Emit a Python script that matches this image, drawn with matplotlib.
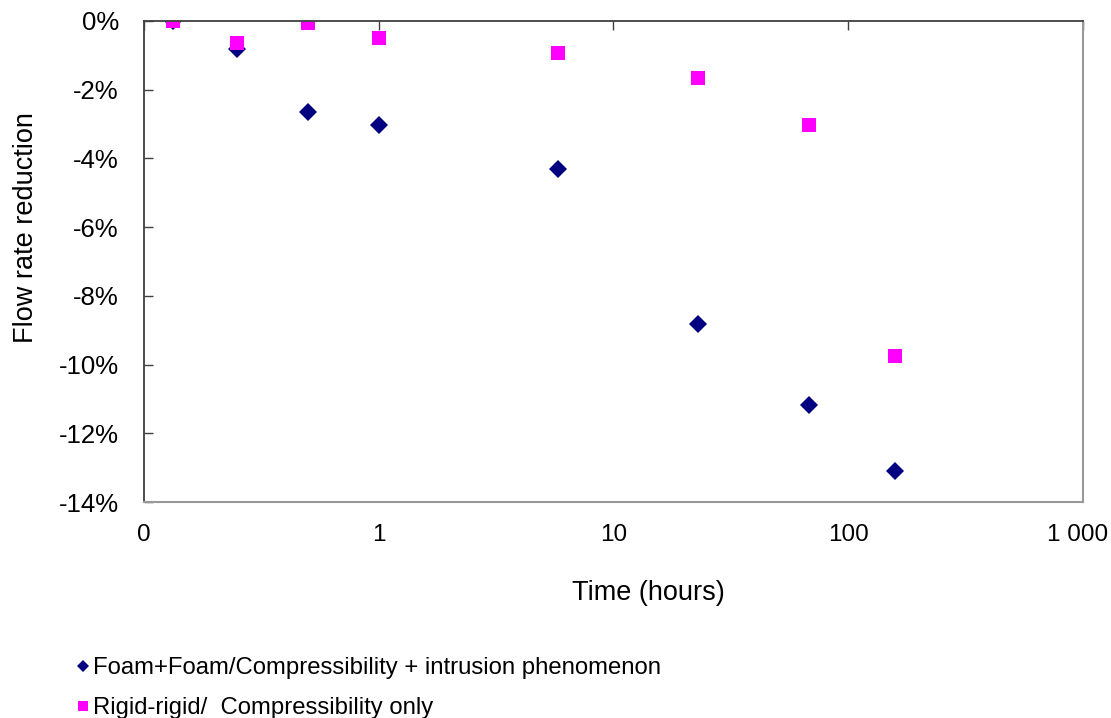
import numpy as np
import matplotlib.pyplot as plt
import matplotlib.transforms as mtransforms
from matplotlib.ticker import FixedLocator, FixedFormatter, NullLocator

plt.rcParams['font.family'] = ['Liberation Sans', 'DejaVu Sans']

# time in hours
t_foam = [0.133, 0.25, 0.5, 1, 5.8, 23, 68, 158]
red_foam = [0.0, -0.83, -2.64, -3.04, -4.30, -8.81, -11.17, -13.10]   # %
t_rigid = [0.133, 0.25, 0.5, 1, 5.8, 23, 68, 158]
red_rigid = [0.0, -0.63, -0.07, -0.51, -0.92, -1.65, -3.02, -9.75]   # %

xticks = [0.1, 1, 10, 100, 1000]
xticklabels = ['0', '1', '10', '100', '1 000']
yticks = [0, -2, -4, -6, -8, -10, -12, -14]

fig = plt.figure(figsize=(11.11, 7.18), dpi=100)
ax = fig.add_axes([0.1296, 0.3008, 0.9748 - 0.1296, 0.9708 - 0.3008])

ax.plot(t_foam, red_foam, linestyle='none', marker='D', ms=9, mew=0,
        color='#000080', label='Foam+Foam/Compressibility + intrusion phenomenon')
ax.plot(t_rigid, red_rigid, linestyle='none', marker='s', ms=10, mew=0,
        color='#FF00FF', label='Rigid-rigid/  Compressibility only')

ax.set_xscale('log')
ax.set_xlim(0.1, 1000)
ax.set_ylim(-14, 0)
ax.xaxis.set_major_locator(FixedLocator(xticks))
ax.xaxis.set_major_formatter(FixedFormatter(xticklabels))
ax.xaxis.set_minor_locator(NullLocator())
ax.set_yticks(yticks)
ax.set_yticklabels(['%d%%' % v for v in yticks])

ax.tick_params(axis='x', which='major', top=True, bottom=False, labeltop=False,
               labelbottom=True, direction='in', length=6.5, width=1,
               color='#404040', labelsize=17.5, pad=16)
ax.tick_params(axis='y', which='major', left=True, direction='in', length=6.5,
               width=1, color='#404040', labelsize=18.5, pad=18)

# nudge the last x label so it stays inside the figure
fig.canvas.draw()
last = ax.get_xticklabels()[-1]
last.set_transform(last.get_transform() + mtransforms.ScaledTranslation(-5 / 100, 0, fig.dpi_scale_trans))

for s in ['top', 'left']:
    ax.spines[s].set_color('#404040')
    ax.spines[s].set_linewidth(1.3)
for s in ['bottom', 'right']:
    ax.spines[s].set_color('#999999')
    ax.spines[s].set_linewidth(1.5)

ax.set_xlabel('Time (hours)', fontsize=19.5)
ax.xaxis.set_label_coords(0.537, -0.19)
ax.xaxis.label.set_va('center')
ax.set_ylabel('Flow rate reduction', fontsize=19.5)
ax.yaxis.set_label_coords(-0.126, 0.570)
ax.yaxis.label.set_va('center')

ax.legend(loc='upper left', bbox_to_anchor=(0.062, 0.098), bbox_transform=fig.transFigure,
          frameon=False, fontsize=17.2, markerscale=0.65, handlelength=0.4,
          handletextpad=0.2, labelspacing=0.75, borderaxespad=0)

fig.savefig('out.png', dpi=100)
